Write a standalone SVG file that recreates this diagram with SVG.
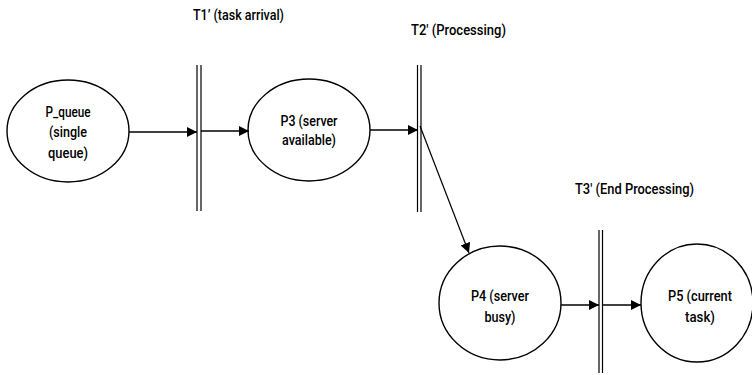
<svg xmlns="http://www.w3.org/2000/svg" width="752" height="375" viewBox="0 0 752 375">
  <defs>
    <marker id="arrow" markerUnits="userSpaceOnUse" markerWidth="10" markerHeight="10" viewBox="0 0 10 10" refX="10" refY="5" orient="auto">
      <path d="M0,0 L10,5 L0,10 Z" fill="#000"/>
    </marker>
  </defs>
  <style>
    .place { fill: #fff; stroke: #000; stroke-width: 1.4; }
    .bar { stroke: #000; stroke-width: 1.2; }
    .edge { stroke: #000; stroke-width: 1.5; fill: none; marker-end: url(#arrow); }
    .lbl { font-family: Roboto, "Liberation Sans", sans-serif; font-weight: 500; font-size: 15px; fill: #000; }
    .mid { text-anchor: middle; }
  </style>
  <rect width="752" height="375" fill="#fff"/>

  <!-- places -->
  <g id="p_queue">
    <ellipse class="place" cx="68" cy="131" rx="61" ry="51"/>
    <text class="lbl mid" x="68" y="117" textLength="45" lengthAdjust="spacingAndGlyphs">P_queue</text>
    <text class="lbl mid" x="68" y="137" textLength="38" lengthAdjust="spacingAndGlyphs">(single</text>
    <text class="lbl mid" x="68" y="158" textLength="40" lengthAdjust="spacingAndGlyphs">queue)</text>
  </g>
  <g id="p3">
    <ellipse class="place" cx="309" cy="130" rx="61" ry="51"/>
    <text class="lbl mid" x="309" y="126" textLength="57" lengthAdjust="spacingAndGlyphs">P3 (server</text>
    <text class="lbl mid" x="309" y="145" textLength="54" lengthAdjust="spacingAndGlyphs">available)</text>
  </g>
  <g id="p4">
    <ellipse class="place" cx="500" cy="303" rx="61" ry="57"/>
    <text class="lbl mid" x="500" y="301" textLength="58" lengthAdjust="spacingAndGlyphs">P4 (server</text>
    <text class="lbl mid" x="500" y="322" textLength="31" lengthAdjust="spacingAndGlyphs">busy)</text>
  </g>
  <g id="p5">
    <ellipse class="place" cx="697" cy="303" rx="56" ry="59"/>
    <text class="lbl mid" x="700" y="301" textLength="64" lengthAdjust="spacingAndGlyphs">P5 (current</text>
    <text class="lbl mid" x="700" y="322" textLength="30" lengthAdjust="spacingAndGlyphs">task)</text>
  </g>

  <!-- transitions -->
  <g id="t1">
    <line class="bar" x1="197" y1="65" x2="197" y2="211"/>
    <line class="bar" x1="201" y1="65" x2="201" y2="211"/>
    <text class="lbl" x="193" y="20" textLength="91" lengthAdjust="spacingAndGlyphs">T1’ (task arrival)</text>
  </g>
  <g id="t2">
    <line class="bar" x1="417.5" y1="65" x2="417.5" y2="212"/>
    <line class="bar" x1="421" y1="65" x2="421" y2="212"/>
    <text class="lbl" x="411" y="35" textLength="95" lengthAdjust="spacingAndGlyphs">T2' (Processing)</text>
  </g>
  <g id="t3">
    <line class="bar" x1="599" y1="230" x2="599" y2="373"/>
    <line class="bar" x1="602.5" y1="230" x2="602.5" y2="373"/>
    <text class="lbl" x="575" y="194" textLength="119" lengthAdjust="spacingAndGlyphs">T3' (End Processing)</text>
  </g>

  <!-- arcs -->
  <g id="connectors">
    <line class="edge" x1="129" y1="132" x2="197" y2="132"/>
    <line class="edge" x1="201" y1="131" x2="249" y2="131"/>
    <line class="edge" x1="370" y1="130" x2="418" y2="130"/>
    <line class="edge" x1="420" y1="126" x2="469" y2="253" style="stroke-width:1.2"/>
    <line class="edge" x1="561" y1="305" x2="599" y2="305"/>
    <line class="edge" x1="603" y1="305" x2="641" y2="305"/>
  </g>
</svg>
